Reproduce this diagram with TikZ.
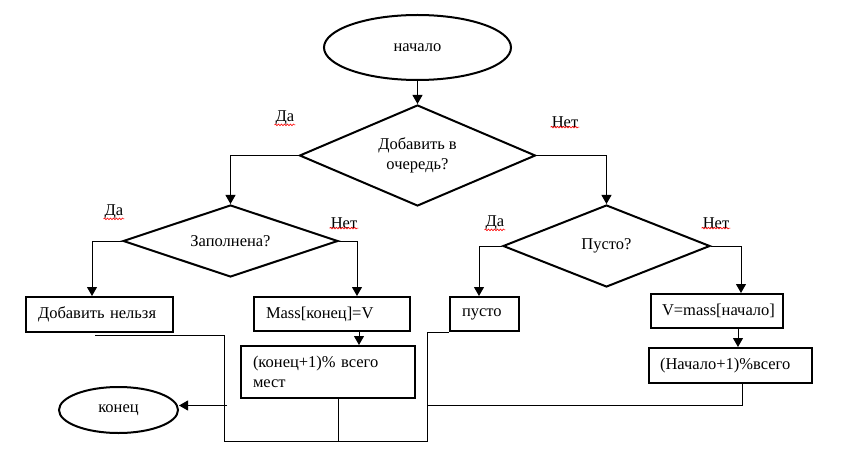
\documentclass[tikz,border=0pt]{standalone}
\usepackage{fontspec}
\setmainfont{Liberation Serif}
\usetikzlibrary{shapes.geometric,arrows.meta,decorations.pathmorphing}
\begin{document}
\begin{tikzpicture}[x=1pt,y=-1pt,
  font=\fontsize{16.5}{19.5}\selectfont,
  term/.style={draw, ellipse, line width=2pt, inner sep=0pt},
  dec/.style={draw, diamond, line width=2pt, inner sep=0pt, align=center},
  box/.style={draw, rectangle, line width=2pt, inner xsep=3pt, inner ysep=0pt,
     execute at begin node={\leftskip=9pt\rightskip=0pt plus 1fil\parfillskip=0pt plus 1fil\parindent=0pt\hyphenpenalty=10000\exhyphenpenalty=10000}},
  lbl/.style={inner sep=1pt},
  conn/.style={line width=1pt},
  arr/.style={conn, -{Triangle[width=10pt,length=9pt]}},
  squig/.style={draw=red, line width=0.6pt, decorate, decoration={snake, segment length=3pt, amplitude=0.8pt}}
]
\useasboundingbox (0,0) rectangle (856,457);

% nodes
\node[term, minimum width=187pt, minimum height=65pt] (start) at (417.5,47.5) {начало};
\node[dec, shape aspect=2.3, minimum width=236pt, minimum height=101pt] (d1) at (417.5,155.5) {Добавить в\\очередь?};
\node[dec, shape aspect=3, minimum width=215pt, minimum height=72pt] (d2) at (230.5,241) {Заполнена?};
\node[dec, shape aspect=2.5, minimum width=207pt, minimum height=82pt] (d3) at (606.5,246) {Пусто?};
\node[box, text width=141pt, minimum height=35pt] (b1) at (99.5,314.5) {Добавить нельзя};
\node[box, text width=150pt, minimum height=34pt] (b2) at (332,314) {Mass[конец]=V};
\node[box, text width=168pt, minimum height=52pt] (b3) at (328,372) {(конец+1)\% всего\newline мест};
\node[box, text width=63pt, minimum height=34pt] (b4) at (484.5,314) {пусто};
\node[box, text width=126pt, minimum height=34pt, execute at begin node={\leftskip=8pt}] (b5) at (717,311) {V=mass[начало]};
\node[box, text width=157pt, minimum height=35pt, execute at begin node={\leftskip=8pt}] (b6) at (730.5,365.5) {(Начало+1)\%всего};
\node[term, minimum width=119pt, minimum height=46pt] (end) at (118.5,410) {конец};

% labels
\node[lbl] (y1) at (285,118) {Да};
\node[lbl] (n1) at (565,122) {Нет};
\node[lbl] (y2) at (114,212) {Да};
\node[lbl] (n2) at (344,223) {Нет};
\node[lbl] (y3) at (495,223) {Да};
\node[lbl] (n3) at (716,223) {Нет};
\foreach \l in {y1,n1,y2,n2,y3,n3}{
  \draw[squig] ([yshift=1.5pt]\l.south west) -- ([yshift=1.5pt]\l.south east);
}

% connectors
\draw[arr] (start.south) -- (d1.north);
\draw[arr] (d1.west) -| (d2.north);
\draw[arr] (d1.east) -| (d3.north);
\draw[arr] (d2.west) -| ([xshift=-7.5pt]b1.north);
\draw[arr] (d2.east) -| ([xshift=25pt]b2.north);
\draw[arr] ([xshift=27pt]b2.south) -- ([xshift=31pt]b3.north);
\draw[arr] (d3.west) -| ([xshift=-5.5pt]b4.north);
\draw[arr] (d3.east) -| ([xshift=24pt]b5.north);
\draw[arr] ([xshift=21pt]b5.south) -- ([xshift=7.5pt]b6.north);

% return lines
\coordinate (r1) at (224,441);
\coordinate (r2) at (427,441);
\coordinate (r4) at (338,441);
\coordinate (r5) at (428,405.5);
\coordinate (r6) at (227,405.5);
\draw[conn] ([shift={(-4.5pt,-2pt)}]b1.south) -| (r1) -- (r2) |- (b4.south west);
\draw[conn] ([xshift=10pt]b3.south) -- (r4);
\draw[conn] ([xshift=11.5pt]b6.south) |- (r5);
\draw[arr] (r6) -- (r6 -| end.east);
\end{tikzpicture}
\end{document}
